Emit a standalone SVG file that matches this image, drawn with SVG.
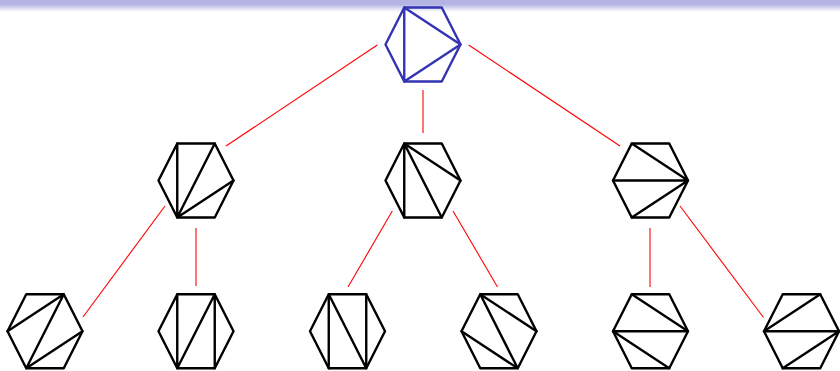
<svg xmlns="http://www.w3.org/2000/svg" xmlns:xlink="http://www.w3.org/1999/xlink" width="840" height="371" viewBox="0 0 840 371">
  <defs>
    <linearGradient id="hdr" x1="0" y1="0" x2="0" y2="1">
      <stop offset="0" stop-color="#b3b3e4"/>
      <stop offset="0.35" stop-color="#b3b3e4"/>
      <stop offset="1" stop-color="#ffffff"/>
    </linearGradient>
    <path id="hex" d="M-37.5,0 L-18.75,-37 L18.75,-37 L37.5,0 L18.75,37 L-18.75,37 Z"/>
  </defs>
  <style>
    .hex { fill: none; stroke: #000; stroke-width: 2.4; stroke-linejoin: round; }
    .diag { fill: none; stroke: #000; stroke-width: 2.4; stroke-linecap: round; }
    .root .hex, .root .diag { stroke: #3333b3; }
    .edge { stroke: #ff0000; stroke-width: 1.1; fill: none; }
  </style>
  <rect x="0" y="0" width="840" height="12" fill="url(#hdr)"/>

  <g id="connectors">
    <line class="edge" x1="377.3" y1="45" x2="226" y2="146"/>
    <line class="edge" x1="468.7" y1="45" x2="620" y2="146"/>
    <line class="edge" x1="423" y1="90" x2="423" y2="133"/>
    <line class="edge" x1="165" y1="206" x2="83" y2="317"/>
    <line class="edge" x1="196" y1="228" x2="196" y2="286"/>
    <line class="edge" x1="392.3" y1="211" x2="348" y2="287"/>
    <line class="edge" x1="453" y1="211" x2="497.5" y2="287"/>
    <line class="edge" x1="650" y1="228" x2="650" y2="287"/>
    <line class="edge" x1="680" y1="206" x2="763.5" y2="317.5"/>
  </g>

  <g id="root" class="root" transform="translate(423,44.5)">
    <use xlink:href="#hex" class="hex"/>
    <path class="diag" d="M-18.75,-37 L-18.75,37 M-18.75,-37 L37.5,0 M-18.75,37 L37.5,0"/>
  </g>

  <g id="m1" transform="translate(196,180.5)">
    <use xlink:href="#hex" class="hex"/>
    <path class="diag" d="M-18.75,37 L-18.75,-37 M-18.75,37 L18.75,-37 M-18.75,37 L37.5,0"/>
  </g>
  <g id="m2" transform="translate(423,180.5)">
    <use xlink:href="#hex" class="hex"/>
    <path class="diag" d="M-18.75,-37 L-18.75,37 M-18.75,-37 L18.75,37 M-18.75,-37 L37.5,0"/>
  </g>
  <g id="m3" transform="translate(650.5,180.5)">
    <use xlink:href="#hex" class="hex"/>
    <path class="diag" d="M37.5,0 L-18.75,-37 M37.5,0 L-37.5,0 M37.5,0 L-18.75,37"/>
  </g>

  <g id="b1" transform="translate(45,331.3)">
    <use xlink:href="#hex" class="hex"/>
    <path class="diag" d="M18.75,-37 L-37.5,0 M18.75,-37 L-18.75,37 M-18.75,37 L37.5,0"/>
  </g>
  <g id="b2" transform="translate(196,331.3)">
    <use xlink:href="#hex" class="hex"/>
    <path class="diag" d="M-18.75,-37 L-18.75,37 M-18.75,37 L18.75,-37 M18.75,-37 L18.75,37"/>
  </g>
  <g id="b3" transform="translate(347.5,331.3)">
    <use xlink:href="#hex" class="hex"/>
    <path class="diag" d="M-18.75,-37 L-18.75,37 M-18.75,-37 L18.75,37 M18.75,-37 L18.75,37"/>
  </g>
  <g id="b4" transform="translate(499,331.3)">
    <use xlink:href="#hex" class="hex"/>
    <path class="diag" d="M-18.75,-37 L37.5,0 M-18.75,-37 L18.75,37 M-37.5,0 L18.75,37"/>
  </g>
  <g id="b5" transform="translate(650.5,331.3)">
    <use xlink:href="#hex" class="hex"/>
    <path class="diag" d="M-18.75,-37 L37.5,0 M-37.5,0 L37.5,0 M-37.5,0 L18.75,37"/>
  </g>
  <g id="b6" transform="translate(801.5,331.3)">
    <use xlink:href="#hex" class="hex"/>
    <path class="diag" d="M-37.5,0 L18.75,-37 M-37.5,0 L37.5,0 M37.5,0 L-18.75,37"/>
  </g>
</svg>
